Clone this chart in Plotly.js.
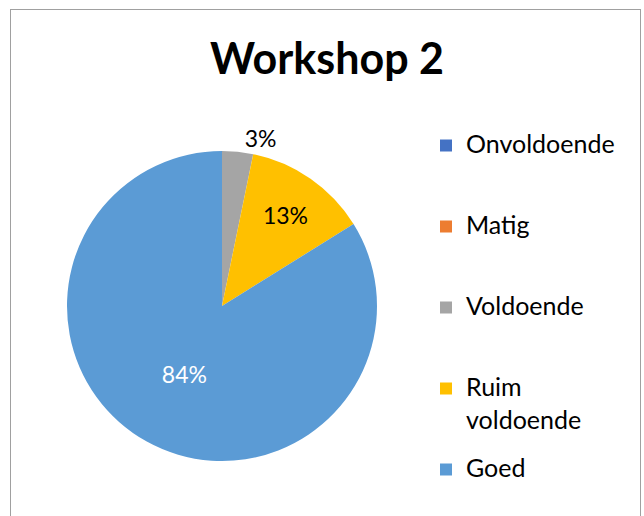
<!DOCTYPE html>
<html><head><meta charset="utf-8">
<script src="https://cdn.plot.ly/plotly-3.0.1.min.js"></script>
<style>
html,body{margin:0;padding:0;background:#fff;}
#wrap{position:relative;width:644px;height:516px;overflow:hidden;}
#chart{position:absolute;left:0;top:0;width:644px;height:516px;}
#frame{position:absolute;left:10px;top:9px;width:629px;height:520px;border:1px solid #a0a0a0;pointer-events:none;}
</style></head><body>
<div id="wrap"><div id="chart"></div><div id="frame"></div></div>
<script>
const categories = ['Onvoldoende', 'Matig', 'Voldoende', 'Ruim voldoende', 'Goed'];
const counts = [0, 0, 1, 4, 26];
const legendText = ['Onvoldoende', 'Matig', 'Voldoende', 'Ruim<br>voldoende', 'Goed'];
const colors = ['#4472C4', '#ED7D31', '#A5A5A5', '#FFC000', '#5B9BD5'];
const labelColors = ['#000000', '#000000', '#000000', '#000000', '#FFFFFF'];
const labelPositions = ['inside', 'inside', 'outside', 'inside', 'inside'];
const titleText = 'Workshop 2';

// legend entries: visible text at 25px, padded to 3 legend lines for Excel-like spacing;
// wrapped continuation lines are shifted down a little (Excel's wider line spacing)
const LINES = 3;
const displayLabels = legendText.map((t, i) => {
  const parts = t.split('<br>');
  const spanned = parts.map((p, k) => {
    const style = k === 0 ? 'font-size:25px' : 'font-size:25px;baseline-shift:-7px';
    return '<span style="' + style + '">' + p + '</span>';
  });
  if (i < legendText.length - 1) {
    while (spanned.length < LINES) spanned.push('\u00a0');
  }
  return spanned.join('<br>');
});

const trace = {
  type: 'pie',
  labels: displayLabels,
  values: counts,
  sort: false,
  direction: 'clockwise',
  rotation: 0,
  marker: {colors: colors, line: {width: 0}},
  texttemplate: counts.map(v => v > 0 ? '%{percent:.0%}' : ''),
  textposition: labelPositions,
  insidetextorientation: 'horizontal',
  textfont: {family: 'Lato, sans-serif', size: 23, color: labelColors},
  outsidetextfont: {family: 'Lato, sans-serif', size: 23, color: '#000000'},
  hoverinfo: 'skip',
  domain: {x: [67/644, 377/644], y: [55/516, 365/516]}
};

const layout = {
  width: 644, height: 516,
  margin: {l: 0, r: 0, t: 0, b: 0},
  paper_bgcolor: '#ffffff',
  title: {
    text: titleText,
    font: {family: 'Lato, sans-serif', size: 43, weight: 700, color: '#000000'},
    x: 327/644, xanchor: 'center', xref: 'paper',
    y: 1 - 59/516, yanchor: 'middle', yref: 'container'
  },
  showlegend: true,
  legend: {
    x: 426/644, xanchor: 'left', y: 1 - 126/516, yanchor: 'top',
    font: {family: 'Lato, sans-serif', size: 20, color: '#000000'},
    valign: 'top', bgcolor: 'rgba(0,0,0,0)', borderwidth: 0
  }
};

Plotly.newPlot('chart', [trace], layout, {displayModeBar: false, staticPlot: true});
</script>
</body></html>
